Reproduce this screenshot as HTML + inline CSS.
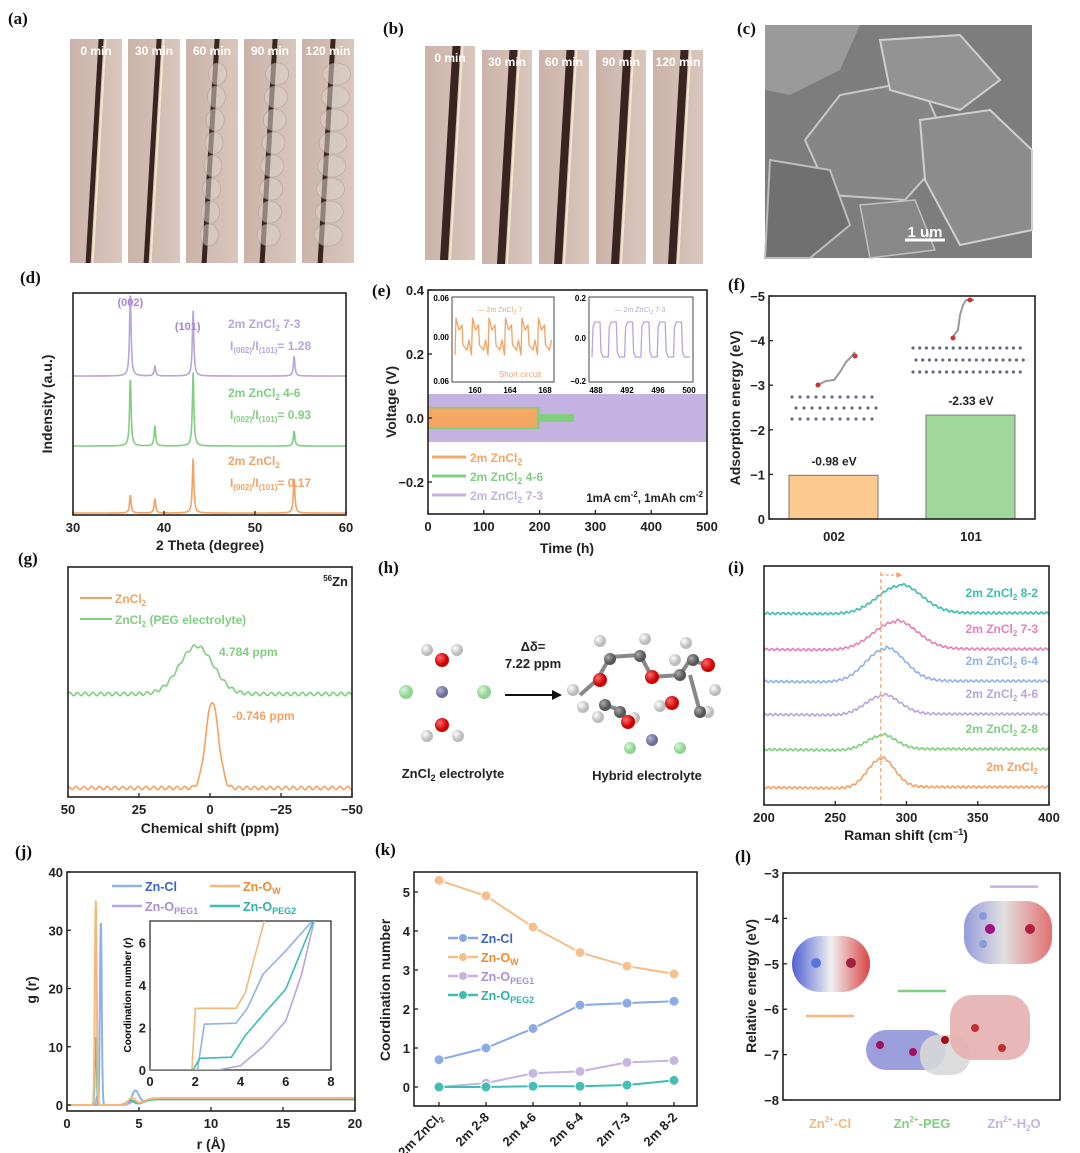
<!DOCTYPE html>
<html><head><meta charset="utf-8"><style>
html,body{margin:0;padding:0;background:#fff}
svg{display:block;font-family:"Liberation Sans",Arial,sans-serif}
.pl{font-family:"Liberation Serif",serif;font-weight:bold;font-size:17px;fill:#111}
.tk{font-weight:bold;font-size:13px;fill:#222}
.ti{font-weight:bold;font-size:14px;fill:#222}
</style></head><body>
<svg id="fig" width="1080" height="1153" viewBox="0 0 1080 1153" xmlns="http://www.w3.org/2000/svg">
<defs>
<linearGradient id="ph" x1="0" x2="1"><stop offset="0" stop-color="#cbb3a9"/><stop offset="1" stop-color="#d9c6bd"/></linearGradient>
<radialGradient id="bw" cx="0.35" cy="0.35"><stop offset="0" stop-color="#fff"/><stop offset="1" stop-color="#bbb"/></radialGradient>
<radialGradient id="br" cx="0.35" cy="0.35"><stop offset="0" stop-color="#ff6b6b"/><stop offset="1" stop-color="#c00"/></radialGradient>
<radialGradient id="bg" cx="0.35" cy="0.35"><stop offset="0" stop-color="#d8f5d8"/><stop offset="1" stop-color="#8fd48f"/></radialGradient>
<radialGradient id="bz" cx="0.35" cy="0.35"><stop offset="0" stop-color="#b0b4d4"/><stop offset="1" stop-color="#6a6f9a"/></radialGradient>
<radialGradient id="bc" cx="0.35" cy="0.35"><stop offset="0" stop-color="#aaa"/><stop offset="1" stop-color="#555"/></radialGradient>
<linearGradient id="esp1" x1="0" x2="1"><stop offset="0" stop-color="#3b4fd0"/><stop offset="0.5" stop-color="#eee"/><stop offset="1" stop-color="#d63030"/></linearGradient>
<linearGradient id="esp2" x1="0" x2="1"><stop offset="0" stop-color="#8a90d8"/><stop offset="0.45" stop-color="#ddd"/><stop offset="1" stop-color="#e06060"/></linearGradient>
</defs>

<text class="pl" x="8" y="24">(a)</text>
<g id="pa"></g>
<text class="pl" x="383" y="34">(b)</text>
<g id="pb"></g>
<text class="pl" x="737" y="34">(c)</text>
<g>
<rect x="765" y="25" width="267" height="233" fill="#7d7d7d"/>
<polygon points="765,25 860,25 840,70 790,95 765,90" fill="#9a9a9a"/>
<polygon points="840,95 920,80 950,150 905,200 830,195 805,140" fill="#868686" stroke="#c8c8c8" stroke-width="2"/>
<polygon points="920,120 990,110 1032,150 1032,230 960,245 925,180" fill="#8c8c8c" stroke="#d0d0d0" stroke-width="2"/>
<polygon points="770,160 830,170 850,225 810,258 765,258" fill="#707070" stroke="#bdbdbd" stroke-width="2"/>
<polygon points="880,40 960,35 1000,80 960,110 890,90" fill="#939393" stroke="#cfcfcf" stroke-width="2"/>
<polygon points="860,205 915,200 935,250 870,258" fill="#888" stroke="#c0c0c0" stroke-width="1.5"/>
<line x1="905" y1="240" x2="945" y2="240" stroke="#fff" stroke-width="3"/>
<text x="925" y="237" text-anchor="middle" font-weight="bold" font-size="15" fill="#fff">1 um</text>
</g>

<text class="pl" x="378" y="573">(h)</text>
<g>
<circle cx="427" cy="650" r="6" fill="url(#bw)"/><circle cx="457" cy="650" r="6" fill="url(#bw)"/><circle cx="442" cy="660" r="7" fill="url(#br)"/>
<circle cx="406" cy="692" r="7" fill="url(#bg)"/><circle cx="442" cy="692" r="6" fill="url(#bz)"/><circle cx="484" cy="692" r="7" fill="url(#bg)"/>
<circle cx="442" cy="725" r="7" fill="url(#br)"/><circle cx="427" cy="736" r="6" fill="url(#bw)"/><circle cx="458" cy="736" r="6" fill="url(#bw)"/>
</g>
<text x="453" y="778" text-anchor="middle" font-weight="bold" font-size="13" fill="#222">ZnCl<tspan font-size="9" dy="3">2</tspan><tspan dy="-3"> electrolyte</tspan></text>
<line x1="505" y1="695" x2="556" y2="695" stroke="#111" stroke-width="2"/>
<polygon points="562,695 552,690 552,700" fill="#111"/>
<text x="533" y="651" text-anchor="middle" font-weight="bold" font-size="13" fill="#222">Δδ=</text>
<text x="533" y="668" text-anchor="middle" font-weight="bold" font-size="13" fill="#222">7.22 ppm</text>
<g stroke="#888" stroke-width="4">
<line x1="580" y1="695" x2="597" y2="680"/><line x1="597" y1="680" x2="610" y2="657"/><line x1="610" y1="657" x2="640" y2="655"/><line x1="640" y1="655" x2="652" y2="677"/><line x1="652" y1="677" x2="680" y2="675"/><line x1="680" y1="675" x2="690" y2="660"/><line x1="690" y1="660" x2="708" y2="665"/><line x1="690" y1="675" x2="700" y2="712"/><line x1="605" y1="705" x2="620" y2="710"/><line x1="620" y1="710" x2="628" y2="720"/>
<g stroke="none">
<circle cx="600" cy="641" r="6" fill="url(#bw)"/><circle cx="645" cy="639" r="6" fill="url(#bw)"/><circle cx="686" cy="643" r="6" fill="url(#bw)"/><circle cx="573" cy="690" r="6" fill="url(#bw)"/><circle cx="583" cy="707" r="6" fill="url(#bw)"/><circle cx="598" cy="717" r="6" fill="url(#bw)"/><circle cx="634" cy="718" r="6" fill="url(#bw)"/><circle cx="660" cy="706" r="6" fill="url(#bw)"/><circle cx="708" cy="712" r="6" fill="url(#bw)"/><circle cx="715" cy="690" r="6" fill="url(#bw)"/><circle cx="675" cy="660" r="6" fill="url(#bw)"/>
<circle cx="610" cy="659" r="6" fill="url(#bc)"/><circle cx="640" cy="656" r="6" fill="url(#bc)"/><circle cx="680" cy="675" r="6" fill="url(#bc)"/><circle cx="693" cy="660" r="6" fill="url(#bc)"/><circle cx="700" cy="712" r="6" fill="url(#bc)"/><circle cx="605" cy="705" r="6" fill="url(#bc)"/><circle cx="620" cy="712" r="6" fill="url(#bc)"/>
<circle cx="600" cy="680" r="7" fill="url(#br)"/><circle cx="652" cy="677" r="7" fill="url(#br)"/><circle cx="708" cy="665" r="7" fill="url(#br)"/><circle cx="628" cy="722" r="7" fill="url(#br)"/><circle cx="672" cy="703" r="7" fill="url(#br)"/>
<circle cx="630" cy="748" r="6" fill="url(#bg)"/><circle cx="652" cy="740" r="6" fill="url(#bz)"/><circle cx="680" cy="748" r="6" fill="url(#bg)"/>
</g></g>
<text x="647" y="780" text-anchor="middle" font-weight="bold" font-size="13" fill="#222">Hybrid electrolyte</text>

<g>
<rect x="792" y="936" width="78" height="56" rx="28" fill="url(#esp1)" opacity="0.9"/>
<circle cx="816" cy="963" r="5" fill="#5577dd"/><circle cx="851" cy="963" r="5" fill="#a02040"/>
<rect x="964" y="901" width="88" height="63" rx="26" fill="url(#esp2)" opacity="0.9"/>
<circle cx="990" cy="929" r="5" fill="#a01080"/><circle cx="1030" cy="929" r="5" fill="#b02040"/><circle cx="983" cy="916" r="4" fill="#8899dd"/><circle cx="983" cy="944" r="4" fill="#8899dd"/>
<rect x="866" y="1030" width="80" height="40" rx="20" fill="#8a8fd6" opacity="0.85"/>
<rect x="920" y="1035" width="50" height="40" rx="18" fill="#d8d8d8" opacity="0.9"/>
<rect x="950" y="995" width="80" height="65" rx="22" fill="#e5b0b0" opacity="0.9"/>
<circle cx="880" cy="1045" r="4" fill="#a01060"/><circle cx="913" cy="1052" r="4" fill="#a01060"/><circle cx="945" cy="1040" r="4" fill="#a01010"/><circle cx="975" cy="1028" r="4" fill="#c03030"/><circle cx="1002" cy="1048" r="4" fill="#c03030"/>
</g>
</svg>
<script>
const NS='http://www.w3.org/2000/svg';
const svg=document.getElementById('fig');
function mk(tag,attrs,parent){const e=document.createElementNS(NS,tag);for(const k in attrs)e.setAttribute(k,attrs[k]);(parent||svg).appendChild(e);return e;}
function txt(x,y,s,attrs){const e=mk('text',Object.assign({x:x,y:y},attrs||{}));e.innerHTML=s;return e;}

const photoTimesA=['0 min','30 min','60 min','90 min','120 min'];
const photoTimesB=['0 min','30 min','60 min','90 min','120 min'];
const dPeakPos=[36.3,39.0,43.2,54.3];
const dPurple=[83,10,65,20];
const dGreen=[68,20,73,15];
const dOrange=[18,14,54,35];
const dOffsets=[139,69,2];
const eNames=['2m ZnCl<tspan font-size="9" dy="3">2</tspan>','2m ZnCl<tspan font-size="9" dy="3">2</tspan><tspan dy="-3"> 4-6</tspan>','2m ZnCl<tspan font-size="9" dy="3">2</tspan><tspan dy="-3"> 7-3</tspan>'];
const eEnd=[195,200,500];
const eAmp=[0.03,0.035,0.075];
const eTailEnd=262;
const eTailAmp=0.012;
const fCats=['002','101'];
const fVals=[-0.98,-2.33];
const gCenters=[-0.746,4.784];
const gHeights=[87,48];
const gWidths=[2.6,7];
const iLabels=['8-2','7-3','6-4','4-6','2-8',''];
const iCenters=[295,292,285,283,282,282];
const iHeights=[29,29,34,20,15,30];
const iWidths=[18,18,16,14,12,11];
const iOffsets=[0,36,68,101,136,174];
const jNames=['Zn-Cl','Zn-O<tspan font-size="9" dy="3">W</tspan>','Zn-O<tspan font-size="9" dy="3">PEG1</tspan>','Zn-O<tspan font-size="9" dy="3">PEG2</tspan>'];
const jPeak1R=[2.35,2.0,2.1,2.0];
const jPeak1H=[31.5,35,1.5,11.5];
const jPeak2R=[4.75,4.5,4.6,4.4];
const jPeak2H=[2.4,1.2,0.5,0.8];
const jCnR=[[0,2.1,2.4,3.8,4.3,5.0,6.0,7.0,7.4],[0,1.85,2.0,3.8,4.2,4.7,5.1],[0,3.0,4.0,5.0,6.0,6.7,7.3],[0,1.9,2.2,3.6,4.2,5.0,6.0,7.3]];
const jCnV=[[0,0,2.15,2.2,2.9,4.5,5.6,6.8,7.2],[0,0,2.9,2.9,3.6,5.6,7.2],[0,0,0.2,1.1,2.3,4.5,7.2],[0,0,0.55,0.6,1.6,2.6,3.8,7.2]];
const kCats=['2m ZnCl<tspan font-size="8" dy="3">2</tspan>','2m 2-8','2m 4-6','2m 6-4','2m 7-3','2m 8-2'];
const kZnCl=[0.7,1.0,1.5,2.1,2.15,2.2];
const kZnOw=[5.3,4.9,4.1,3.45,3.1,2.9];
const kPeg1=[0,0.1,0.35,0.4,0.63,0.68];
const kPeg2=[0,0,0.02,0.02,0.05,0.17];
const lCats=['Zn<tspan font-size="8" dy="-6">2+</tspan><tspan dy="6">-Cl</tspan>','Zn<tspan font-size="8" dy="-6">2+</tspan><tspan dy="6">-PEG</tspan>','Zn<tspan font-size="8" dy="-6">2+</tspan><tspan dy="6">-H</tspan><tspan font-size="8" dy="3">2</tspan><tspan dy="-3">O</tspan>'];
const lEnergies=[-6.15,-5.6,-3.3];

const OR='#f4a261',GR='#7fcf7f',PU='#b9a4dc',BL='#88a8e6',TE='#3dbdb3',PK='#e87fb6',LB='#8fb3e8';

function frame(x0,y0,x1,y1,name){const r=mk('rect',{x:x0,y:y0,width:x1-x0,height:y1-y0,fill:'none',stroke:'#222','stroke-width':1.6});

}
function xTicks(vals,sx,yb,name,len){vals.forEach(v=>{const x=sx(v);mk('line',{x1:x,x2:x,y1:yb,y2:yb-(len||4),stroke:'#222','stroke-width':1.3});
const t=txt(x,yb+17,String(v).replace('-','−'),{class:'tk','text-anchor':'middle'});

});}
function yTicks(vals,sy,xl,name,fmt){vals.forEach(v=>{const y=sy(v);mk('line',{x1:xl,x2:xl+4,y1:y,y2:y,stroke:'#222','stroke-width':1.3});
const t=txt(xl-4,y+5,fmt?fmt(v):String(v).replace('-','−'),{class:'tk','text-anchor':'end'});

});}
function vtitle(x,y,s,name){const t=txt(x,y,s,{class:'ti','text-anchor':'middle',transform:'rotate(-90 '+x+' '+y+')'});

}
function htitle(x,y,s,name){const t=txt(x,y,s,{class:'ti','text-anchor':'middle'});

}
function path(pts,color,w,name){const p=mk('path',{d:'M'+pts.map(p=>p[0].toFixed(1)+','+p[1].toFixed(1)).join('L'),fill:'none',stroke:color,'stroke-width':w||1.6,'stroke-linejoin':'round'});

return p;}
function plabel(x,y,s,name){const t=txt(x,y,s,{class:'pl'});

}

function strips(g,x0,w,gap,y0,h,labels,grow){labels.forEach((s,i)=>{const x=x0+i*(w+gap);const yy=y0+(grow&&i>0?4:0);
mk('rect',{x:x,y:yy,width:w,height:h,fill:'url(#ph)'},g);
const lw=grow?8:5;
mk('polygon',{points:(x+w*0.55)+','+yy+' '+(x+w*0.55+lw)+','+yy+' '+(x+w*0.3+lw)+','+(yy+h)+' '+(x+w*0.3)+','+(yy+h),fill:'#3a2420'},g);
if(!grow&&i>=2){for(let k=0;k<8;k++){mk('ellipse',{cx:x+w*0.55-k*1.2+i*1.5,cy:yy+35+k*23,rx:4+i*2.5,ry:11,fill:'#dcd2c9',stroke:'#a89c94','stroke-width':0.8,opacity:0.55},g);}}
else{mk('line',{x1:x+w*0.55+lw+2,y1:yy,x2:x+w*0.3+lw+2,y2:yy+h,stroke:'#f3e6cc','stroke-width':2},g);}
const t=txt(x+w/2,yy+16,s,{'text-anchor':'middle','font-size':12,'font-weight':'bold',fill:'#fff'});
g.appendChild(t);

});}
strips(document.getElementById('pa'),70,52,6,39,224,photoTimesA,false);
strips(document.getElementById('pb'),425,50,7,46,214,photoTimesB,true);

plabel(20,283,'(d)','panel-label-d');
{const X0=73,X1=346,Y0=293,Y1=515;const sx=v=>X0+(v-30)/30*(X1-X0);
const sets=[[dPurple,PU],[dGreen,GR],[dOrange,OR]];
sets.forEach((s,si)=>{const pts=[];for(let x=30;x<=60.001;x+=0.04){let y=dOffsets[si];dPeakPos.forEach((p,k)=>{y+=s[0][k]/(1+Math.pow((x-p)/0.1,2));});pts.push([sx(x),Y1-y]);}
path(pts,s[1],1.6,'xrd-curve');});
frame(X0,Y0,X1,Y1,'xrd-plot-frame');
xTicks([30,40,50,60],sx,Y1,'x-tick-label');
htitle(210,550,'2 Theta (degree)','x-axis-title');vtitle(52,404,'Indensity (a.u.)','y-axis-title');
txt(sx(36.3),306,'(002)',{'font-size':11,'font-weight':'bold',fill:'#a884d6','text-anchor':'middle'});
txt(sx(42.6),330,'(101)',{'font-size':11,'font-weight':'bold',fill:'#a884d6','text-anchor':'middle'});
const lab=[['2m ZnCl<tspan font-size="8" dy="3">2</tspan><tspan dy="-3"> 7-3</tspan>','1.28',PU,328],['2m ZnCl<tspan font-size="8" dy="3">2</tspan><tspan dy="-3"> 4-6</tspan>','0.93',GR,397],['2m ZnCl<tspan font-size="8" dy="3">2</tspan>','0.17',OR,465]];
lab.forEach(l=>{txt(228,l[3],l[0],{'font-size':12,'font-weight':'bold',fill:l[2]});
txt(230,l[3]+22,'I<tspan font-size="8" dy="3">(002)</tspan><tspan dy="-3">/I</tspan><tspan font-size="8" dy="3">(101)</tspan><tspan dy="-3">= '+l[1]+'</tspan>',{'font-size':12,'font-weight':'bold',fill:l[2]});});}

plabel(372,296,'(e)','panel-label-e');
{const X0=428,X1=707,Y0=290,Y1=514;const sx=t=>X0+t/500*(X1-X0);const sy=v=>418-v*320;
const cols=['#f5a764',GR,'#c3b2e2'];
[2,1,0].forEach(i=>{const r=mk('rect',{x:sx(0),y:sy(eAmp[i]),width:sx(eEnd[i])-sx(0),height:sy(-eAmp[i])-sy(eAmp[i]),fill:cols[i]});


if(i===1){const t=mk('rect',{x:sx(eEnd[1]),y:sy(eTailAmp),width:sx(eTailEnd)-sx(eEnd[1]),height:sy(-eTailAmp)-sy(eTailAmp),fill:GR});

}});
frame(X0,Y0,X1,Y1,'voltage-plot-frame');
xTicks([0,100,200,300,400,500],sx,Y1,'x-tick-label');
yTicks([0.4,0.2,0.0,-0.2],sy,X0,'y-tick-label',v=>v.toFixed(1).replace('-','−'));
htitle(567,553,'Time (h)','x-axis-title');vtitle(396,402,'Voltage (V)','y-axis-title');
eNames.forEach((n,i)=>{const y=457+i*19;mk('line',{x1:432,x2:466,y1:y,y2:y,stroke:cols[i],'stroke-width':3});
const t=txt(470,y+5,n,{'font-size':12,'font-weight':'bold',fill:cols[i]});

});
txt(703,502,'1mA cm<tspan font-size="8" dy="-5">-2</tspan><tspan dy="5">, 1mAh cm</tspan><tspan font-size="8" dy="-5">-2</tspan>',{'font-size':11.5,'font-weight':'bold',fill:'#222','text-anchor':'end'});
mk('rect',{x:452,y:297,width:102,height:85,fill:'#fff',stroke:'#444','stroke-width':1});
const p1=[];for(let c=0;c<6;c++){const bx=455+c*16.5;p1.push([bx,355],[bx+1,318],[bx+4,330],[bx+7,325],[bx+8,345],[bx+12,350],[bx+14,340]);}
path(p1,OR,1.3,'inset-short-circuit-curve');
txt(500,312,'— 2m ZnCl<tspan font-size="6" dy="2">2</tspan><tspan dy="-2"> 7</tspan>',{'font-size':7,fill:OR,'text-anchor':'middle'});
txt(520,377,'Short circuit',{'font-size':8,fill:OR,'text-anchor':'middle'});
txt(449,301,'0.06',{'font-size':8,'font-weight':'bold','text-anchor':'end'});txt(449,340,'0.00',{'font-size':8,'font-weight':'bold','text-anchor':'end'});txt(449,384,'0.06',{'font-size':8,'font-weight':'bold','text-anchor':'end'});
[160,164,168].forEach((v,k)=>txt(475+k*35,393,v,{'font-size':8,'font-weight':'bold','text-anchor':'middle'}));
mk('rect',{x:589,y:297,width:104,height:85,fill:'#fff',stroke:'#444','stroke-width':1});
const p2=[];for(let c=0;c<6;c++){const bx=592+c*16.3;p2.push([bx,357],[bx+1,327],[bx+3,322],[bx+8,322],[bx+9,352],[bx+11,357],[bx+16.3,357]);}
path(p2,PU,1.3,'inset-stable-curve');
txt(640,312,'— 2m ZnCl<tspan font-size="6" dy="2">2</tspan><tspan dy="-2"> 7-3</tspan>',{'font-size':7,fill:PU,'text-anchor':'middle'});
txt(586,301,'0.2',{'font-size':8,'font-weight':'bold','text-anchor':'end'});txt(586,341,'0.0',{'font-size':8,'font-weight':'bold','text-anchor':'end'});txt(586,384,'−0.2',{'font-size':8,'font-weight':'bold','text-anchor':'end'});
[488,492,496,500].forEach((v,k)=>txt(596+k*31,393,v,{'font-size':8,'font-weight':'bold','text-anchor':'middle'}));}

plabel(728,290,'(f)','panel-label-f');
{const X0=769,X1=1035,Y0=296,Y1=519;const sy=v=>Y1+v*(Y1-Y0)/5;const bx=[789,926];const bcol=['#fcc98e','#9fd89a'];
fCats.forEach((c,i)=>{const r=mk('rect',{x:bx[i],y:sy(fVals[i]),width:89,height:Y1-sy(fVals[i]),fill:bcol[i],stroke:'#777','stroke-width':1});


const t=txt(bx[i]+45,sy(fVals[i])-10,fVals[i].toFixed(2)+' eV',{'font-size':12,'font-weight':'bold',fill:'#222','text-anchor':'middle'});


const l=txt(bx[i]+45,541,c,{class:'tk','text-anchor':'middle'});

});
for(let r=0;r<3;r++)for(let k=0;k<11;k++)mk('circle',{cx:792+k*8+(r%2)*4,cy:397+r*11,r:1.6,fill:'#666a8a'});
for(let r=0;r<3;r++)for(let k=0;k<17;k++)mk('circle',{cx:913+k*6.7+(r%2)*3,cy:348+r*12,r:1.6,fill:'#666a8a'});
path([[818,385],[826,381],[834,380],[840,372],[846,362],[851,357],[855,352]],'#999',2,'molecule-002');
path([[952,338],[958,330],[960,315],[963,305],[966,300],[970,300],[974,300]],'#999',2,'molecule-101');
mk('circle',{cx:818,cy:385,r:2.5,fill:'#c33'});mk('circle',{cx:855,cy:356,r:2.5,fill:'#c33'});mk('circle',{cx:953,cy:338,r:2.5,fill:'#c33'});mk('circle',{cx:970,cy:300,r:2.5,fill:'#c33'});
frame(X0,Y0,X1,Y1,'adsorption-plot-frame');
yTicks([-5,-4,-3,-2,-1,0],sy,X0,'y-tick-label');
vtitle(740,408,'Adsorption energy (eV)','y-axis-title');}

plabel(18,564,'(g)','panel-label-g');
{const X0=68,X1=352,Y0=567,Y1=797;const sx=v=>X0+(50-v)/100*(X1-X0);const base=[788,694];const cols=[OR,GR];
[1,0].forEach(i=>{const pts=[];for(let v=50;v>=-50;v-=0.5){const d=(v-gCenters[i])/gWidths[i];const y=base[i]-gHeights[i]*Math.exp(-d*d*0.69)-1.8*Math.sin(v*2.3+i);pts.push([sx(v),y]);}
path(pts,cols[i],1.6,'nmr-curve');});
frame(X0,Y0,X1,Y1,'nmr-plot-frame');
xTicks([50,25,0,-25,-50],sx,Y1,'x-tick-label');
htitle(210,833,'Chemical shift (ppm)','x-axis-title');
txt(348,586,'<tspan font-size="8" dy="-5">56</tspan><tspan dy="5">Zn</tspan>',{'font-size':13,'font-weight':'bold',fill:'#222','text-anchor':'end'});
mk('line',{x1:80,x2:112,y1:598,y2:598,stroke:OR,'stroke-width':2});txt(115,603,'ZnCl<tspan font-size="8" dy="3">2</tspan>',{'font-size':12,'font-weight':'bold',fill:OR});
mk('line',{x1:80,x2:112,y1:619,y2:619,stroke:GR,'stroke-width':2});txt(115,624,'ZnCl<tspan font-size="8" dy="3">2</tspan><tspan dy="-3"> (PEG electrolyte)</tspan>',{'font-size':12,'font-weight':'bold',fill:GR});
txt(219,656,'4.784 ppm',{'font-size':12,'font-weight':'bold',fill:GR});
txt(232,720,'-0.746 ppm',{'font-size':12,'font-weight':'bold',fill:OR});}

plabel(728,573,'(i)','panel-label-i');
{const X0=764,X1=1049,Y0=566,Y1=805;const sx=v=>X0+(v-200)/200*(X1-X0);const cols=[TE,PK,LB,PU,GR,OR];
iCenters.forEach((c,i)=>{const b=613+iOffsets[i];const pts=[];for(let v=200;v<=400;v+=1){const d=(v-c)/iWidths[i];const y=b-iHeights[i]*Math.exp(-d*d*0.69)+(v>c?0:2)*Math.exp(-Math.abs(v-c)/60)+1.2*Math.sin(v*1.7+i);pts.push([sx(v),y]);}
path(pts,cols[i],1.6,'raman-curve');
const t=txt(1038,b-16,'2m ZnCl<tspan font-size="8" dy="3">2</tspan><tspan dy="-3"> '+iLabels[i]+'</tspan>',{'font-size':12,'font-weight':'bold',fill:cols[i],'text-anchor':'end'});

});
mk('line',{x1:sx(282),x2:sx(282),y1:572,y2:Y1,stroke:OR,'stroke-width':1.2,'stroke-dasharray':'4,3'});
mk('line',{x1:sx(282),x2:sx(294),y1:575,y2:575,stroke:OR,'stroke-width':1.2,'stroke-dasharray':'3,2'});
mk('polygon',{points:(sx(297))+',575 '+(sx(293))+',572 '+(sx(293))+',578',fill:OR});
frame(X0,Y0,X1,Y1,'raman-plot-frame');
xTicks([200,250,300,350,400],sx,Y1,'x-tick-label');
htitle(906,840,'Raman shift (cm<tspan font-size="9" dy="-5">−1</tspan><tspan dy="5">)</tspan>','x-axis-title');}

plabel(15,857,'(j)','panel-label-j');
{const X0=67,X1=355,Y0=872,Y1=1111;const sx=r=>X0+r/20*(X1-X0);const sy=g=>1105-g*(1105-Y0)/40;const cols=[LB,'#f6b87a',PU,TE];
[0,2,3,1].forEach(i=>{const pts=[];for(let r=0;r<=20;r+=0.02){const d1=(r-jPeak1R[i])/0.09,d2=(r-jPeak2R[i])/0.35;const step=1/(1+Math.exp(-(r-5.3)*4));const g=jPeak1H[i]*Math.exp(-d1*d1)+jPeak2H[i]*Math.exp(-d2*d2)+(r>jPeak1R[i]?step:0)*(i===1?1.2:1);pts.push([sx(r),sy(g)]);}
path(pts,cols[i],2,'rdf-curve');});
frame(X0,Y0,X1,Y1,'rdf-plot-frame');
xTicks([0,5,10,15,20],sx,Y1,'x-tick-label');
yTicks([0,10,20,30,40],sy,X0,'y-tick-label');
htitle(211,1149,'r (Å)','x-axis-title');vtitle(36,990,'g (r)','y-axis-title');
const lx=[112,210,112,210],ly=[886,886,906,906];
jNames.forEach((n,i)=>{mk('line',{x1:lx[i],x2:lx[i]+30,y1:ly[i],y2:ly[i],stroke:cols[i],'stroke-width':2.5});
const t=txt(lx[i]+33,ly[i]+5,n,{'font-size':12.5,'font-weight':'bold',fill:i===0?'#3a62c8':i===1?'#f08a2c':i===2?'#a98fd0':'#2fb0a8'});

});
const IX0=150,IX1=331,IY0=921,IY1=1070;const ix=r=>IX0+r/8*(IX1-IX0);const iy=v=>IY1-v*(IY1-IY0)/7;
mk('rect',{x:IX0,y:IY0,width:IX1-IX0,height:IY1-IY0,fill:'#fff',stroke:'#333','stroke-width':1.3});
mk('clipPath',{id:'icl'}).appendChild(document.createElementNS(NS,'rect'));
document.querySelector('#icl rect').setAttribute('x',IX0);document.querySelector('#icl rect').setAttribute('y',IY0);document.querySelector('#icl rect').setAttribute('width',IX1-IX0);document.querySelector('#icl rect').setAttribute('height',IY1-IY0);
jCnR.forEach((rs,i)=>{const p=path(rs.map((r,k)=>[ix(r),iy(jCnV[i][k])]),cols[i],1.6,'cn-curve');p.setAttribute('clip-path','url(#icl)');});
[0,2,4,6,8].forEach(v=>{txt(ix(v),IY1+16,v,{class:'tk','text-anchor':'middle'});});
[0,2,4,6].forEach(v=>{txt(IX0-4,iy(v)+5,v,{class:'tk','text-anchor':'end'});});
txt(131,995,'Coordination number (<tspan font-style="italic">r</tspan>)',{'font-size':10,'font-weight':'bold','text-anchor':'middle',transform:'rotate(-90 131 995)'});}

plabel(375,855,'(k)','panel-label-k');
{const X0=414,X1=697,Y0=872,Y1=1106;const sx=i=>439+i*47;const sy=v=>1087-v*39;
const ser=[[kZnOw,'#f6be8a','Zn-O<tspan font-size="9" dy="3">W</tspan>','#f08a2c'],[kZnCl,BL,'Zn-Cl','#3a62c8'],[kPeg1,'#c6b4e0','Zn-O<tspan font-size="9" dy="3">PEG1</tspan>','#a98fd0'],[kPeg2,TE,'Zn-O<tspan font-size="9" dy="3">PEG2</tspan>','#2fb0a8']];
ser.forEach(s=>{path(s[0].map((v,i)=>[sx(i),sy(v)]),s[1],2,'cn-line');
s[0].forEach((v,i)=>{const c=mk('circle',{cx:sx(i),cy:sy(v),r:5,fill:s[1],stroke:'#fff','stroke-width':1,opacity:0.95});

});});
frame(X0,Y0,X1,Y1,'cn-plot-frame');
yTicks([0,1,2,3,4,5],sy,X0,'y-tick-label');
kCats.forEach((c,i)=>{mk('line',{x1:sx(i),x2:sx(i),y1:Y1,y2:Y1-4,stroke:'#222','stroke-width':1.3});
const t=txt(sx(i)+4,Y1+12,c,{class:'tk','font-size':12,'text-anchor':'end',transform:'rotate(-45 '+(sx(i)+4)+' '+(Y1+12)+')'});

});
vtitle(390,990,'Coordination number','y-axis-title');
const order=[1,0,2,3];order.forEach((si,k)=>{const y=938+k*19;const s=ser[si];mk('line',{x1:448,x2:478,y1:y,y2:y,stroke:s[1],'stroke-width':2.5});mk('circle',{cx:463,cy:y,r:4.5,fill:s[1],stroke:'#fff'});
const t=txt(481,y+5,s[2],{'font-size':12.5,'font-weight':'bold',fill:s[3]});

});}

plabel(735,862,'(l)','panel-label-l');
{const X0=783,X1=1060,Y0=873,Y1=1100;const sy=e=>Y0+(-3-e)*(Y1-Y0)/5;const cx=[830,922,1014];const cols=['#f6b87a','#7fcf7f','#c6b0e0'];
lEnergies.forEach((e,i)=>{const l=mk('line',{x1:cx[i]-24,x2:cx[i]+24,y1:sy(e),y2:sy(e),stroke:cols[i],'stroke-width':2.5});


const t=txt(cx[i],1128,lCats[i],{'font-size':13,'font-weight':'bold',fill:cols[i],'text-anchor':'middle'});

});
frame(X0,Y0,X1,Y1,'energy-plot-frame');
yTicks([-3,-4,-5,-6,-7,-8],sy,X0,'y-tick-label');
vtitle(756,986,'Relative energy (eV)','y-axis-title');}
</script>
</body></html>
